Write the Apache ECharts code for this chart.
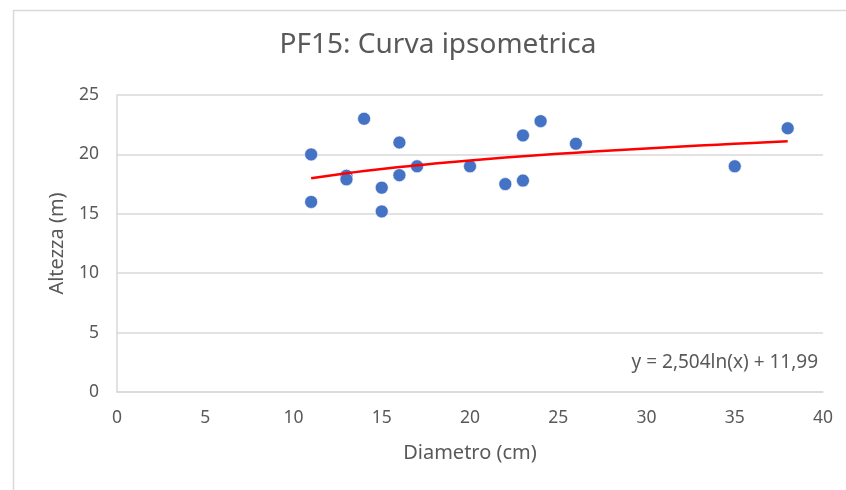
<!DOCTYPE html>
<html>
<head>
<meta charset="utf-8">
<script src="https://cdn.jsdelivr.net/npm/echarts@6/dist/echarts.min.js"></script>
<style>html,body{margin:0;padding:0;background:#fff}#c{width:846px;height:490px}</style>
</head>
<body>
<div id="c"></div>
<script>
const diametro = [11, 11, 13, 13, 14, 15, 15, 16, 16, 17, 20, 22, 23, 23, 24, 26, 35, 38];
const altezza  = [20.0, 16.0, 18.2, 17.9, 23.0, 17.2, 15.2, 21.0, 18.25, 19.0, 19.0, 17.5, 17.8, 21.6, 22.8, 20.9, 19.0, 22.2];
const xTicks = [0, 5, 10, 15, 20, 25, 30, 35, 40];
const yTicks = [0, 5, 10, 15, 20, 25];
const trendA = 2.504, trendB = 11.99;
const trendX = [11, 12, 13, 14, 15, 16, 17, 18, 19, 20, 22, 24, 26, 28, 30, 32, 34, 36, 38];

const font = 'Noto Sans';
const scatterData = diametro.map((d, i) => [d, altezza[i]]);
const trendData = trendX.map(x => [x, trendA * Math.log(x) + trendB]);

const chart = echarts.init(document.getElementById('c'), null, {renderer: 'canvas'});
chart.setOption({
  animation: false,
  backgroundColor: '#fff',
  title: {
    text: 'PF15: Curva ipsometrica',
    left: 433, top: 26, textAlign: 'center',
    textStyle: {fontFamily: font, fontSize: 28, fontWeight: 'normal', color: '#595959'}
  },
  grid: {left: 117, right: 23, top: 95, bottom: 98},
  xAxis: {
    type: 'value', min: xTicks[0], max: xTicks[xTicks.length - 1], interval: 5,
    name: 'Diametro (cm)', nameLocation: 'middle', nameGap: 51,
    nameTextStyle: {fontFamily: font, fontSize: 20, color: '#595959'},
    axisLine: {show: true, lineStyle: {color: '#d9d9d9', width: 1.5}},
    axisTick: {show: false},
    axisLabel: {fontFamily: font, fontSize: 17.5, color: '#595959', margin: 17},
    splitLine: {show: false}
  },
  yAxis: {
    type: 'value', min: yTicks[0], max: yTicks[yTicks.length - 1], interval: 5,
    name: 'Altezza (m)', nameLocation: 'middle', nameGap: 50,
    nameTextStyle: {fontFamily: font, fontSize: 20, color: '#595959'},
    axisLine: {show: true, lineStyle: {color: '#d9d9d9', width: 1.5}},
    axisTick: {show: false},
    axisLabel: {fontFamily: font, fontSize: 17.5, color: '#595959', margin: 18},
    splitLine: {show: true, lineStyle: {color: '#d9d9d9', width: 1.5}}
  },
  series: [
    {
      type: 'line', data: trendData, showSymbol: false, smooth: true, z: 3,
      lineStyle: {color: '#ff0000', width: 2.5}
    },
    {
      type: 'scatter', data: scatterData, symbolSize: 13, z: 2,
      itemStyle: {color: '#4472c4', borderColor: '#ffffff', borderWidth: 0.6, opacity: 1}
    }
  ],
  graphic: [
    {type: 'rect', left: 11, top: 8, shape: {width: 900, height: 600},
     style: {fill: 'none', stroke: '#d9d9d9', lineWidth: 1.5}, silent: true},
    {type: 'text', right: 28, top: 353,
     style: {text: 'y = 2,504ln(x) + 11,99', fontFamily: font, fontSize: 19, fill: '#595959'}}
  ]
});
</script>
</body>
</html>
